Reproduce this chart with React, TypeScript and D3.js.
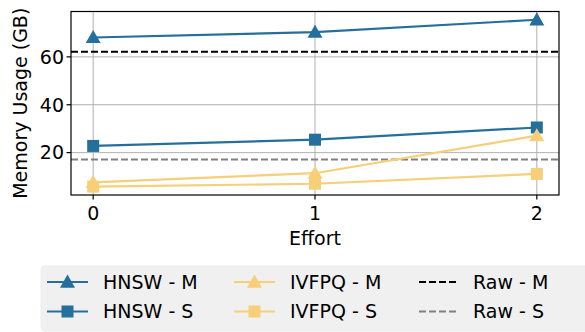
import React from 'react'
import * as d3 from 'd3'

const efforts = [0, 1, 2]
const yTicks = [20, 40, 60]
const hnswM = [68.1, 70.3, 75.5]
const hnswS = [22.8, 25.4, 30.5]
const ivfpqM = [7.6, 11.4, 27.1]
const ivfpqS = [5.8, 7.0, 11.1]
const rawM = 62.1
const rawS = 17.1

const BLUE = '#256f9c'
const YELLOW = '#f6cf78'

const seriesList = [
  { name: 'HNSW - M', values: hnswM, color: BLUE, marker: 'tri' },
  { name: 'HNSW - S', values: hnswS, color: BLUE, marker: 'sq' },
  { name: 'IVFPQ - M', values: ivfpqM, color: YELLOW, marker: 'tri' },
  { name: 'IVFPQ - S', values: ivfpqS, color: YELLOW, marker: 'sq' },
]
const rawLines = [
  { name: 'Raw - M', value: rawM, color: '#000000' },
  { name: 'Raw - S', value: rawS, color: '#808080' },
]

function Marker({ type, x, y, color }: { type: string; x: number; y: number; color: string }) {
  if (type === 'tri') {
    const s = 7.5
    return <path d={`M${x},${y - s}L${x + s},${y + s * 0.75}L${x - s},${y + s * 0.75}Z`} fill={color} />
  }
  const s = 6
  return <rect x={x - s} y={y - s} width={2 * s} height={2 * s} fill={color} />
}

function App() {
  const W = 585, H = 332
  const left = 71, right = 559, top = 11.5, bottom = 195
  const x = d3.scaleLinear().domain([-0.1, 2.1]).range([left, right])
  const y = d3.scaleLinear().domain([2.3, 78.95]).range([bottom, top])
  const line = d3.line<number>().x((d, i) => x(efforts[i])).y(d => y(d))
  const font = 'DejaVu Sans, sans-serif'
  const fs = 19

  const legendCols = [
    [seriesList[0], seriesList[1]],
    [seriesList[2], seriesList[3]],
  ]
  const colX = [47, 234]
  const rowY = [282, 311.5]

  return (
    <svg width={W} height={H} style={{ position: 'absolute', left: 0, top: 0 }} fontFamily={font}>
      <rect width={W} height={H} fill="#fff" />
      {/* grid */}
      {efforts.map(e => (
        <line key={'gx' + e} x1={x(e)} x2={x(e)} y1={top} y2={bottom} stroke="#b0b0b0" strokeWidth={1} />
      ))}
      {yTicks.map(t => (
        <line key={'gy' + t} x1={left} x2={right} y1={y(t)} y2={y(t)} stroke="#b0b0b0" strokeWidth={1} />
      ))}
      {/* raw lines */}
      {rawLines.map(r => (
        <line key={r.name} x1={left} x2={right} y1={y(r.value)} y2={y(r.value)} stroke={r.color} strokeWidth={2} strokeDasharray="7,3" />
      ))}
      {/* series */}
      {seriesList.map(s => (
        <g key={s.name}>
          <path d={line(s.values) || ''} fill="none" stroke={s.color} strokeWidth={2.2} />
          {s.values.map((v, i) => (
            <Marker key={i} type={s.marker} x={x(efforts[i])} y={y(v)} color={s.color} />
          ))}
        </g>
      ))}
      {/* frame */}
      <rect x={left} y={top} width={right - left} height={bottom - top} fill="none" stroke="#000" strokeWidth={1.2} />
      {/* x ticks */}
      {efforts.map(e => (
        <g key={'xt' + e}>
          <line x1={x(e)} x2={x(e)} y1={bottom} y2={bottom + 4.5} stroke="#000" strokeWidth={1.2} />
          <text x={x(e)} y={220} textAnchor="middle" fontSize={fs}>{e}</text>
        </g>
      ))}
      {yTicks.map(t => (
        <g key={'yt' + t}>
          <line x1={left - 4.5} x2={left} y1={y(t)} y2={y(t)} stroke="#000" strokeWidth={1.2} />
          <text x={left - 7} y={y(t)} dy="0.36em" textAnchor="end" fontSize={fs}>{t}</text>
        </g>
      ))}
      <text x={(left + right) / 2} y={245} textAnchor="middle" fontSize={fs}>Effort</text>
      <text transform={`translate(27,${(top + bottom) / 2}) rotate(-90)`} textAnchor="middle" fontSize={fs}>Memory Usage (GB)</text>
      {/* legend */}
      <rect x={41} y={266} width={560} height={65} rx={4} fill="#f0f0f0" stroke="#ececec" />
      {legendCols.map((col, ci) =>
        col.map((s, ri) => (
          <g key={s.name}>
            <line x1={colX[ci]} x2={colX[ci] + 41} y1={rowY[ri]} y2={rowY[ri]} stroke={s.color} strokeWidth={2.2} />
            <Marker type={s.marker} x={colX[ci] + 20.5} y={rowY[ri]} color={s.color} />
            <text x={colX[ci] + 56} y={rowY[ri]} dy="0.36em" fontSize={fs}>{s.name}</text>
          </g>
        ))
      )}
      {rawLines.map((r, ri) => (
        <g key={'l' + r.name}>
          <line x1={419} x2={458} y1={rowY[ri]} y2={rowY[ri]} stroke={r.color} strokeWidth={2} strokeDasharray="7,3" />
          <text x={473} y={rowY[ri]} dy="0.36em" fontSize={fs}>{r.name}</text>
        </g>
      ))}
    </svg>
  )
}

export default App
